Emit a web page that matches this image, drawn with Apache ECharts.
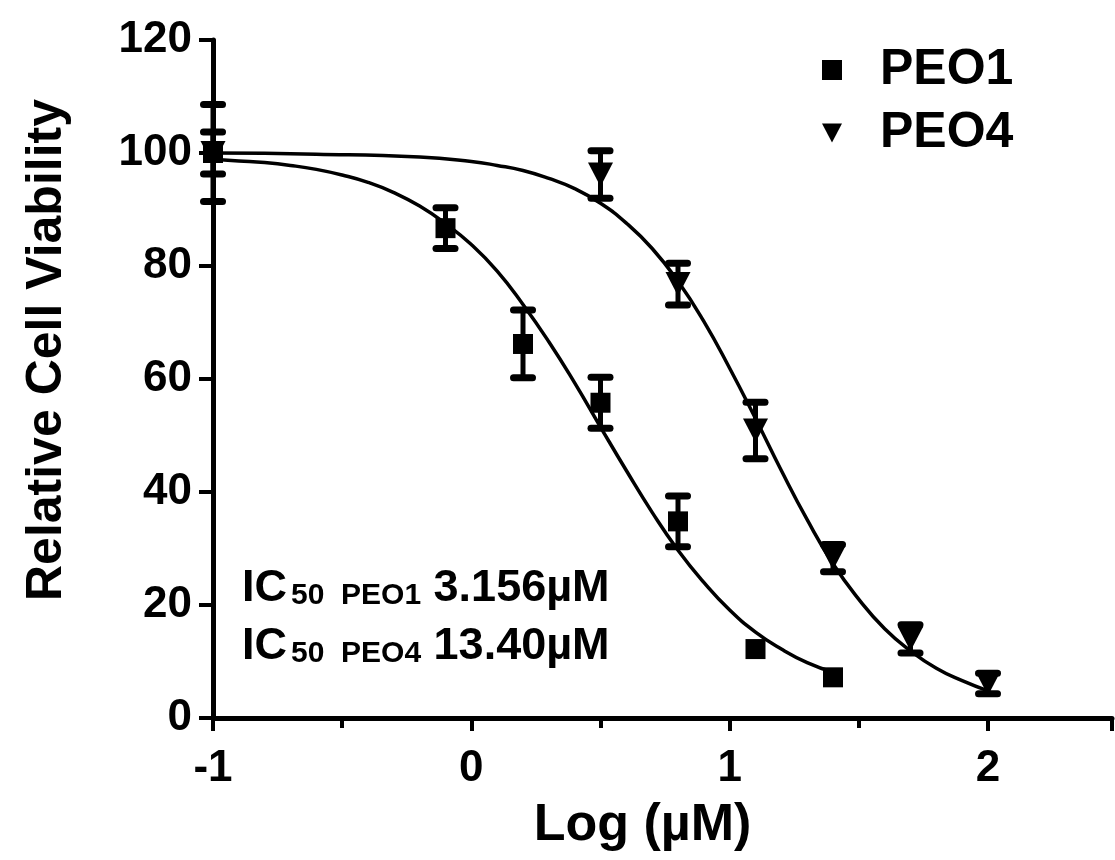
<!DOCTYPE html>
<html>
<head>
<meta charset="utf-8">
<script src="https://cdn.jsdelivr.net/npm/echarts@6/dist/echarts.min.js"></script>
<style>
  html, body { margin: 0; padding: 0; background: #fff; }
  #chart { width: 1115px; height: 860px; }
</style>
</head>
<body>
<div id="chart"></div>
<script>
// measured points (log dose, mean viability, error bar half-length)
var peo1Dose = [-1, -0.1, 0.2, 0.5, 0.8, 1.1, 1.4];
var peo1Mean = [100, 86.7, 66.2, 55.8, 34.8, 12.2, 7.2];
var peo1Err  = [3.7, 3.6, 6.0, 4.5, 4.5, 0, 0];

var peo4Dose = [-1, 0.5, 0.8, 1.1, 1.4, 1.7, 2.0];
var peo4Mean = [100, 96.2, 76.8, 50.9, 28.3, 14.0, 6.1];
var peo4Err  = [8.6, 4.2, 3.7, 5.0, 2.4, 2.5, 1.8];

// fitted curves
var fitDose1 = [-1, -0.9, -0.8, -0.7, -0.6, -0.5, -0.4, -0.3, -0.2, -0.1, 0, 0.1, 0.2,
                0.3, 0.4, 0.5, 0.6, 0.7, 0.8, 0.9, 1.0, 1.1, 1.2, 1.3, 1.4];
var fitPeo1  = [98.9, 98.6, 98.3, 97.8, 97.1, 96.1, 94.8, 93.0, 90.6, 87.5, 83.8, 79.1, 73.2,
                66.6, 59.3, 51.5, 43.8, 36.4, 29.7, 24.0, 19.1, 15.2, 12.2, 9.8, 8.1];
var fitDose4 = [-1, -0.6, -0.2, 0, 0.1, 0.2, 0.3, 0.4, 0.5, 0.6, 0.7, 0.8, 0.9, 1.0,
                1.1, 1.2, 1.3, 1.4, 1.5, 1.6, 1.7, 1.8, 1.9, 2.0];
var fitPeo4  = [100, 99.8, 99.3, 98.5, 97.8, 96.9, 95.5, 93.7, 91.1, 87.6, 83.1, 77.3, 70.2, 61.9,
                53.0, 43.8, 35.1, 27.3, 21.0, 15.8, 11.9, 8.8, 6.6, 4.8];

var xTicks = [-1, 0, 1, 2];
var yTicks = [0, 20, 40, 60, 80, 100, 120];
var ic50Lines = [
    {cell: 'PEO1', value: '3.156µM'},
    {cell: 'PEO4', value: '13.40µM'}
];

var FONT = '"Liberation Sans", Arial, sans-serif';

function zip(a, b, c) {
    return a.map(function (v, i) {
        return c ? [v, b[i], c[i]] : [v, b[i]];
    });
}

function errorBar(params, api) {
    var x = api.value(0), m = api.value(1), e = api.value(2);
    if (!e) return null;
    var hi = api.coord([x, m + e]);
    var lo = api.coord([x, m - e]);
    var half = 9.5;
    var cap = {stroke: '#000', lineWidth: 7, lineCap: 'round'};
    return {
        type: 'group',
        children: [
            {type: 'line', shape: {x1: hi[0], y1: hi[1], x2: lo[0], y2: lo[1]},
             style: {stroke: '#000', lineWidth: 5}},
            {type: 'line', shape: {x1: hi[0] - half, y1: hi[1], x2: hi[0] + half, y2: hi[1]}, style: cap},
            {type: 'line', shape: {x1: lo[0] - half, y1: lo[1], x2: lo[0] + half, y2: lo[1]}, style: cap}
        ]
    };
}

var chart = echarts.init(document.getElementById('chart'), null, {renderer: 'canvas'});

var icGraphics = ic50Lines.map(function (row, i) {
    return {
        type: 'text',
        left: 242,
        top: 566 + i * 58.5,
        z: 10,
        style: {
            text: '{a|IC}{b|50  ' + row.cell + '}{a| ' + row.value + '}',
            rich: {
                a: {fontSize: 45, fontWeight: 'bold', fontFamily: FONT, lineHeight: 44, fill: '#000'},
                b: {fontSize: 30, fontWeight: 'bold', fontFamily: FONT, lineHeight: 6,
                    verticalAlign: 'bottom', fill: '#000', padding: [0, 0, 0, 4]}
            }
        }
    };
});

var option = {
    backgroundColor: '#fff',
    animation: false,
    grid: {left: 213, right: 1, top: 40, bottom: 142},
    legend: {
        orient: 'vertical',
        left: 822,
        top: 45,
        padding: 0,
        itemGap: 13,
        itemWidth: 20,
        itemHeight: 20,
        selectedMode: false,
        itemStyle: {opacity: 1},
        textStyle: {fontSize: 50, fontWeight: 'bold', fontFamily: FONT, color: '#000', padding: [0, 0, 0, 33]},
        data: [
            {name: 'PEO1', icon: 'rect'},
            {name: 'PEO4', icon: 'path://M0,0L20,0L10,19Z'}
        ]
    },
    xAxis: {
        type: 'value',
        min: -1,
        max: 2.48,
        interval: 1,
        name: 'Log (µM)',
        nameLocation: 'middle',
        nameGap: 82,
        nameTextStyle: {fontSize: 52, fontWeight: 'bold', fontFamily: FONT, color: '#000', padding: [0, 40, 0, 0]},
        axisLine: {onZero: false, lineStyle: {color: '#000', width: 5}},
        axisTick: {show: true, length: 13, lineStyle: {color: '#000', width: 4}},
        minorTick: {show: true, splitNumber: 2, length: 10, lineStyle: {color: '#000', width: 4}},
        splitLine: {show: false},
        axisLabel: {
            margin: 29,
            fontSize: 44, fontWeight: 'bold', fontFamily: FONT, color: '#000',
            formatter: function (v) { return xTicks.indexOf(v) >= 0 ? String(v) : ''; }
        }
    },
    yAxis: {
        type: 'value',
        min: 0,
        max: 120,
        interval: 20,
        name: 'Relative Cell Viability',
        nameLocation: 'middle',
        nameGap: 141,
        nameRotate: 90,
        nameTextStyle: {fontSize: 50, fontWeight: 'bold', fontFamily: FONT, color: '#000', padding: [0, 0, 0, 58]},
        axisLine: {show: true, onZero: false, lineStyle: {color: '#000', width: 5}},
        axisTick: {show: true, length: 14, lineStyle: {color: '#000', width: 4}},
        splitLine: {show: false},
        axisLabel: {
            margin: 21,
            fontSize: 44, fontWeight: 'bold', fontFamily: FONT, color: '#000',
            formatter: function (v) { return yTicks.indexOf(v) >= 0 ? String(v) : ''; }
        }
    },
    graphic: icGraphics,
    series: [
        {
            name: 'fit1', type: 'line', data: zip(fitDose1, fitPeo1), smooth: true,
            showSymbol: false, symbol: 'none', z: 1,
            lineStyle: {color: '#000', width: 3.5}
        },
        {
            name: 'fit4', type: 'line', data: zip(fitDose4, fitPeo4), smooth: true,
            showSymbol: false, symbol: 'none', z: 1,
            lineStyle: {color: '#000', width: 3.5}
        },
        {
            name: 'err1', type: 'custom', renderItem: errorBar, z: 2,
            data: zip(peo1Dose, peo1Mean, peo1Err)
        },
        {
            name: 'err4', type: 'custom', renderItem: errorBar, z: 2,
            data: zip(peo4Dose, peo4Mean, peo4Err)
        },
        {
            name: 'PEO1', type: 'scatter', symbol: 'rect', symbolSize: 20, z: 3,
            itemStyle: {color: '#000', opacity: 1},
            data: zip(peo1Dose, peo1Mean)
        },
        {
            name: 'PEO4', type: 'scatter', symbol: 'triangle', symbolSize: [25, 24], symbolRotate: 180, z: 3,
            itemStyle: {color: '#000', opacity: 1},
            data: zip(peo4Dose, peo4Mean)
        }
    ]
};

chart.setOption(option);
</script>
</body>
</html>
